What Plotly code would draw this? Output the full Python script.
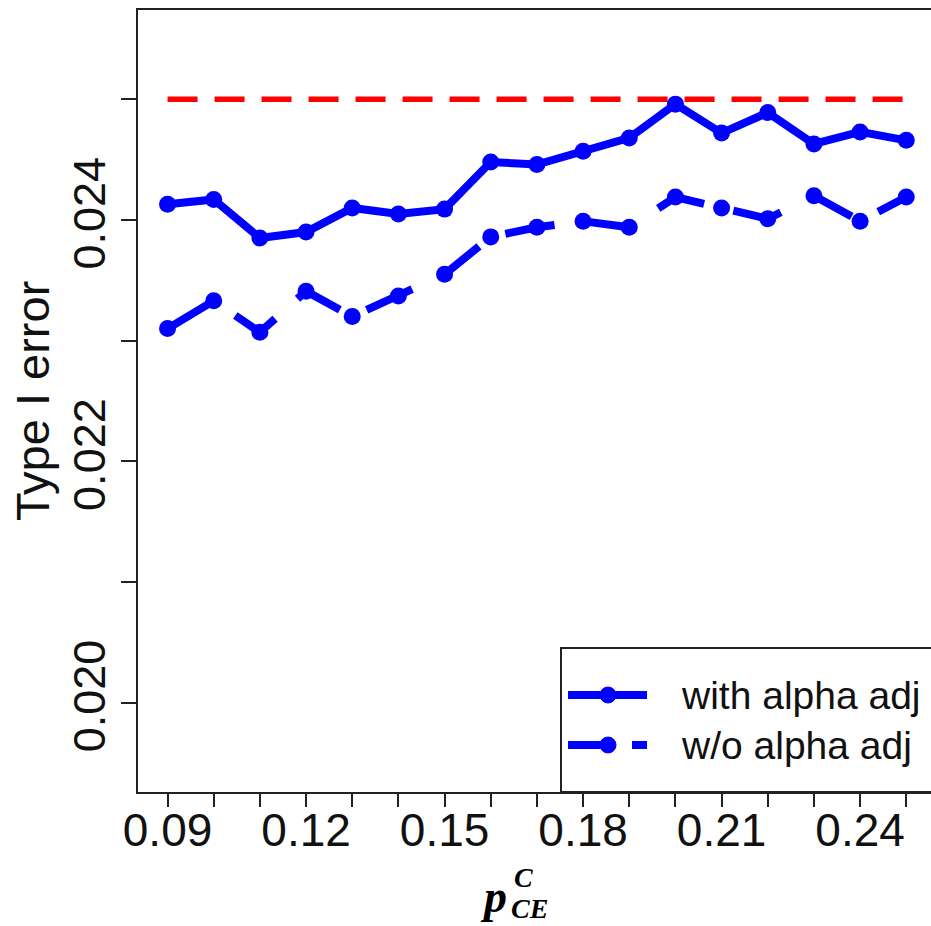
import plotly.graph_objects as go

# ---- data ----
p_ce = [0.09, 0.10, 0.11, 0.12, 0.13, 0.14, 0.15, 0.16, 0.17,
        0.18, 0.19, 0.20, 0.21, 0.22, 0.23, 0.24, 0.25]
with_alpha_adj = [0.02413, 0.02417, 0.02385, 0.02390, 0.02410, 0.02405, 0.02409,
                  0.02448, 0.02446, 0.02457, 0.02468, 0.02496, 0.02472, 0.02489,
                  0.02463, 0.02473, 0.02466]
without_alpha_adj = [0.02310, 0.02333, 0.02307, 0.02341, 0.02320, 0.02337, 0.02355,
                     0.02386, 0.02394, 0.02399, 0.02394, 0.02419, 0.02410, 0.02401,
                     0.02420, 0.02399, 0.02419]
nominal_alpha = 0.025

x_tick_vals = p_ce
x_tick_text = ["0.09", "", "", "0.12", "", "", "0.15", "", "", "0.18", "", "",
               "0.21", "", "", "0.24", ""]
y_tick_vals = [0.020, 0.021, 0.022, 0.023, 0.024, 0.025]
y_tick_text = ["0.020", "", "0.022", "", "0.024", ""]

series_names = ["with alpha adj", "w/o alpha adj"]

# ---- figure ----
W, H = 931, 926
L, R, T, B = 138, 0, 10, 134
pw, ph = W - L - R, H - T - B

BLUE = "#0000FF"
RED = "#FF0000"
FONT = "Liberation Sans, Arial, sans-serif"

fig = go.Figure()

fig.add_trace(go.Scatter(
    x=[p_ce[0], p_ce[-1]], y=[nominal_alpha, nominal_alpha], mode="lines",
    line=dict(color=RED, width=5.5, dash="30px,17px"), showlegend=False))

fig.add_trace(go.Scatter(
    x=p_ce, y=with_alpha_adj, mode="lines+markers", name=series_names[0],
    line=dict(color=BLUE, width=8), marker=dict(color=BLUE, size=17),
    showlegend=False))

fig.add_trace(go.Scatter(
    x=p_ce, y=without_alpha_adj, mode="lines+markers", name=series_names[1],
    line=dict(color=BLUE, width=8, dash="50px,30px"), marker=dict(color=BLUE, size=17),
    showlegend=False))

# x range: R-style 4% padding on left; right side cut by the image edge
px_per_unit = 4617.0
x0 = 0.09 - 0.0064
x1 = x0 + pw / px_per_unit

fig.update_xaxes(
    range=[x0, x1], tickmode="array", tickvals=x_tick_vals, ticktext=x_tick_text,
    ticks="outside", ticklen=13, tickwidth=2, tickcolor="#222",
    showline=True, linecolor="#222", linewidth=2, mirror=True,
    showgrid=False, zeroline=False, ticklabelstandoff=-16,
    tickfont=dict(family=FONT, size=46, color="#111"))

fig.update_yaxes(
    range=[0.01926, 0.02574], tickmode="array", tickvals=y_tick_vals, ticktext=y_tick_text,
    ticks="outside", ticklen=15, tickwidth=2, tickcolor="#222", tickangle=-90,
    showline=True, linecolor="#222", linewidth=2,
    showgrid=False, zeroline=False, ticklabelstandoff=-2,
    tickfont=dict(family=FONT, size=45, color="#111"))

def px_x(p):
    return (p - L) / pw

def px_y(p):
    return (H - B - p) / ph

annotations = []
# y-axis title
annotations.append(dict(text="Type I error", x=px_x(32), y=0.5, xref="paper", yref="paper",
                        textangle=-90, showarrow=False, xanchor="center", yanchor="middle",
                        font=dict(family=FONT, size=47, color="#111")))
# x-axis title  p^C_CE
SERIF = "Liberation Serif, DejaVu Serif, serif"
annotations.append(dict(text="<b><i>p</i></b>", x=px_x(493), y=px_y(896), xref="paper", yref="paper",
                        showarrow=False, xanchor="center", yanchor="middle",
                        font=dict(family=SERIF, size=46, color="#000")))
annotations.append(dict(text="<b><i>C</i></b>", x=px_x(512), y=px_y(877), xref="paper", yref="paper",
                        showarrow=False, xanchor="left", yanchor="middle",
                        font=dict(family=SERIF, size=28, color="#000")))
annotations.append(dict(text="<b><i>CE</i></b>", x=px_x(509), y=px_y(908), xref="paper", yref="paper",
                        showarrow=False, xanchor="left", yanchor="middle",
                        font=dict(family=SERIF, size=28, color="#000")))

# custom legend
leg_rows = [px_y(695), px_y(745)]
for name, yy in zip(series_names, leg_rows):
    annotations.append(dict(text=name, x=px_x(679), y=yy, xref="paper", yref="paper",
                            showarrow=False, xanchor="left", yanchor="middle",
                            font=dict(family=FONT, size=39, color="#111")))

shapes = []
shapes.append(dict(type="rect", xref="paper", yref="paper",
                   x0=px_x(561), x1=1.05, y0=0, y1=px_y(648),
                   line=dict(color="#222", width=2), fillcolor="white", layer="above"))
shapes.append(dict(type="line", xref="paper", yref="paper",
                   x0=px_x(568), x1=px_x(647), y0=leg_rows[0], y1=leg_rows[0],
                   line=dict(color=BLUE, width=8)))
shapes.append(dict(type="line", xref="paper", yref="paper",
                   x0=px_x(568), x1=px_x(647), y0=leg_rows[1], y1=leg_rows[1],
                   line=dict(color=BLUE, width=8, dash="47px,17px")))
for yy in leg_rows:
    shapes.append(dict(type="circle", xref="paper", yref="paper",
                       xsizemode="pixel", ysizemode="pixel",
                       xanchor=px_x(608), yanchor=yy, x0=-8, x1=8, y0=-8, y1=8,
                       fillcolor=BLUE, line=dict(color=BLUE, width=1)))

fig.update_layout(
    width=W, height=H, autosize=False,
    margin=dict(l=L, r=R, t=T, b=B),
    paper_bgcolor="white", plot_bgcolor="white",
    annotations=annotations, shapes=shapes, showlegend=False)

fig.write_html("out.html", config={"displayModeBar": False},
               post_script="document.body.style.margin='0';document.body.style.padding='0';"
                           "document.body.style.overflow='hidden';"
                           "document.documentElement.style.overflow='hidden';")
